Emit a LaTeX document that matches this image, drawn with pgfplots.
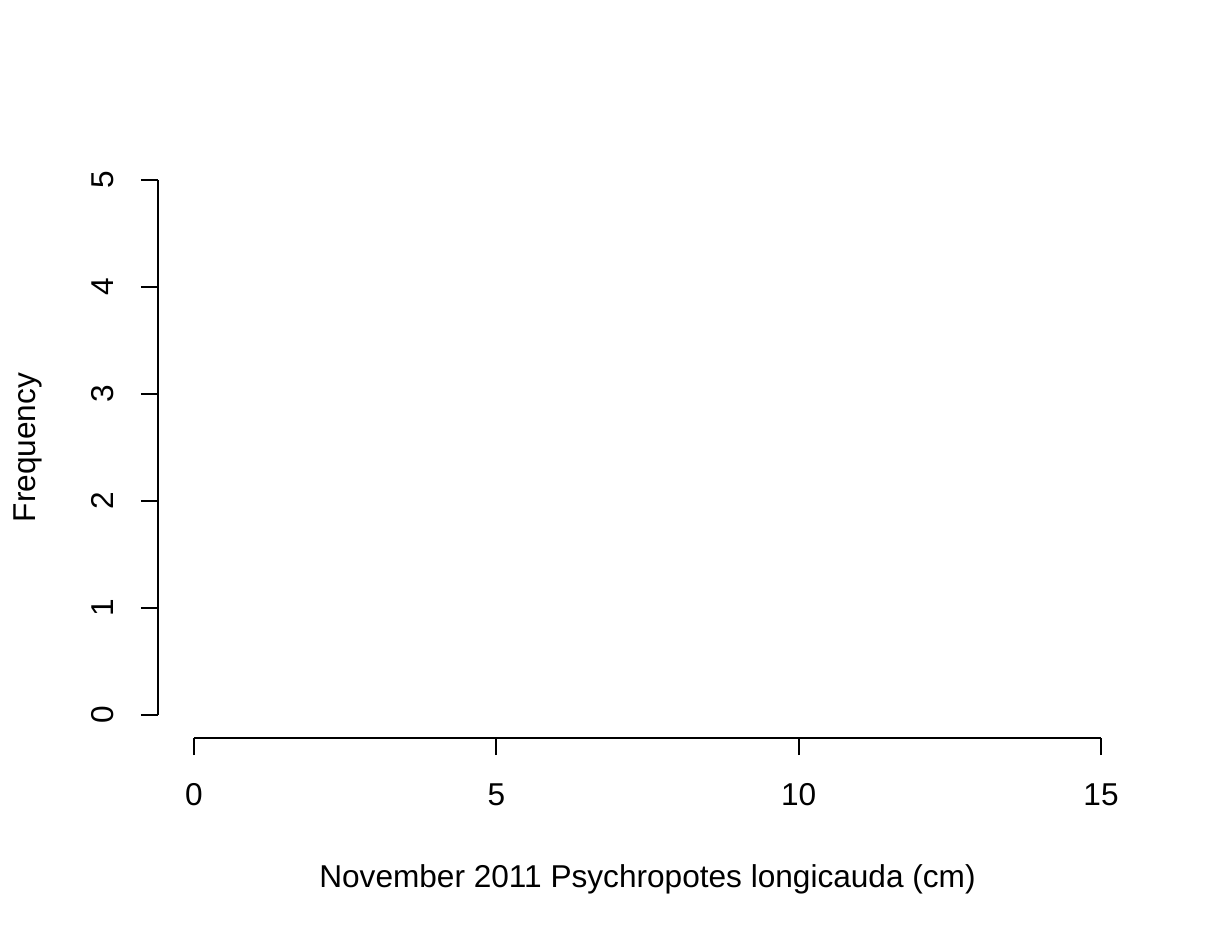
\documentclass[border=0pt]{standalone}
\usepackage{fontspec}
\setmainfont{Liberation Sans}
\usepackage{pgfplots}
\pgfplotsset{compat=1.18}
\begin{document}
\begin{tikzpicture}
\useasboundingbox (0,0) rectangle (610pt,467pt);
\pgfplotsset{every axis/.append style={
  scale only axis, enlargelimits=false,
  /pgf/number format/assume math mode=true,
  tick align=outside, major tick length=8.5pt,
  every tick/.style={black, line width=1pt},
  axis line style={black, line width=1pt},
  tick label style={font=\fontsize{15.8}{19}\selectfont},
  label style={font=\fontsize{15.8}{19}\selectfont},
  clip=false}}
% x axis (drawn from first to last tick, as R does)
\begin{axis}[at={(97pt,98pt)}, anchor=south west,
  width=453.5pt, height=267.5pt,
  xmin=0, xmax=15, ymin=0, ymax=5,
  axis x line*=bottom, hide y axis,
  xtick={0,5,10,15},
  xticklabel style={anchor=base, yshift=-25pt},
  xlabel={November 2011 Psychropotes longicauda (cm)},
  xlabel style={at={(rel axis cs:0.5,0)}, anchor=base, yshift=-74.5pt}]
\end{axis}
% y axis
\begin{axis}[at={(79pt,109.5pt)}, anchor=south west,
  width=453.5pt, height=267.5pt,
  xmin=0, xmax=15, ymin=0, ymax=5,
  axis y line*=left, hide x axis,
  ytick={0,1,2,3,4,5},
  yticklabel style={xshift=-14pt, rotate=90, anchor=base},
  ylabel={Frequency},
  ylabel style={at={([xshift=-61.5pt]rel axis cs:0,0.5)}, rotate=0, anchor=base}]
\end{axis}
\end{tikzpicture}
\end{document}
